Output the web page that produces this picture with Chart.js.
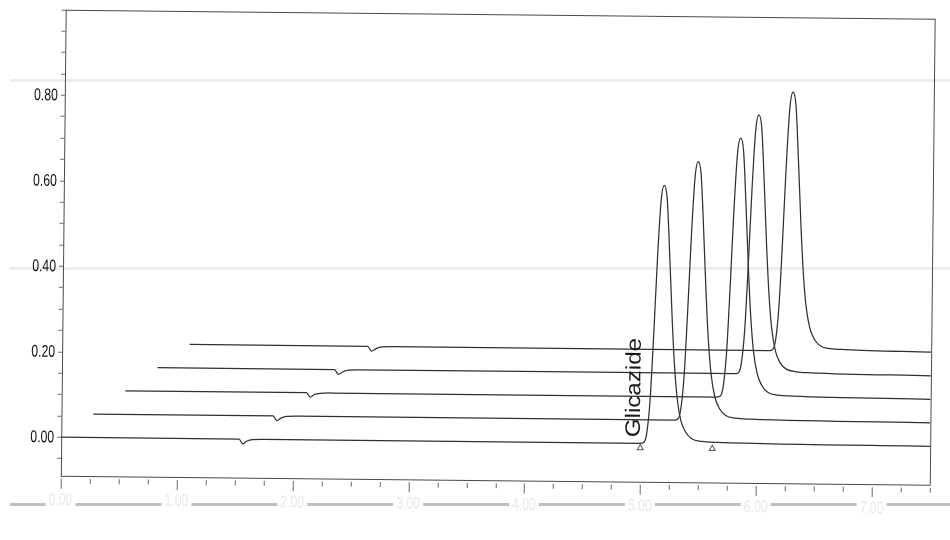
<!DOCTYPE html>
<html>
<head>
<meta charset="utf-8">
<title>Glicazide – overlaid chromatograms</title>
<script src="https://cdn.jsdelivr.net/npm/chart.js@4.4.1/dist/chart.umd.min.js"></script>
<style>
  html, body { margin: 0; padding: 0; background: #ffffff; }
  #wrap { width: 950px; height: 540px; position: relative; }
</style>
</head>
<body>
<div id="wrap"><canvas id="chromo" width="950" height="540"></canvas></div>
<script>
// Five injections, each as [retention time (min), absorbance (AU)] on its own time base.
const run1 = [
  [0.000, 0.000], [1.535, 0.000], [1.567, -0.011], [1.600, -0.005], [1.650, -0.001], [1.750, 0.000],
  [4.997, 0.000], [5.027, 0.002], [5.053, 0.024], [5.079, 0.103], [5.104, 0.254], [5.130, 0.435],
  [5.156, 0.568], [5.182, 0.604], [5.208, 0.574], [5.234, 0.447], [5.260, 0.302], [5.285, 0.187],
  [5.311, 0.109], [5.346, 0.054], [5.389, 0.027], [5.441, 0.012], [5.527, 0.006], [5.656, 0.004],
  [7.500, 0.000]
];
const run2 = [
  [0.000, 0.000], [1.552, 0.000], [1.584, -0.011], [1.620, -0.005], [1.670, -0.001], [1.770, 0.000],
  [5.013, 0.000], [5.043, 0.002], [5.069, 0.025], [5.095, 0.104], [5.120, 0.255], [5.146, 0.436],
  [5.172, 0.569], [5.198, 0.605], [5.224, 0.575], [5.250, 0.448], [5.276, 0.303], [5.301, 0.188],
  [5.327, 0.110], [5.362, 0.055], [5.405, 0.027], [5.457, 0.012], [5.543, 0.006], [5.672, 0.004],
  [7.225, 0.000]
];
const run3 = [
  [0.000, 0.000], [1.563, 0.000], [1.595, -0.010], [1.630, -0.004], [1.680, -0.001], [1.780, 0.000],
  [5.102, 0.000], [5.132, 0.002], [5.158, 0.024], [5.184, 0.103], [5.209, 0.255], [5.235, 0.437],
  [5.261, 0.570], [5.287, 0.606], [5.313, 0.576], [5.339, 0.449], [5.365, 0.303], [5.390, 0.188],
  [5.416, 0.109], [5.451, 0.055], [5.494, 0.027], [5.546, 0.012], [5.632, 0.006], [5.761, 0.004],
  [6.950, 0.000]
];
const run4 = [
  [0.000, 0.000], [1.528, 0.000], [1.560, -0.011], [1.600, -0.005], [1.650, -0.001], [1.750, 0.000],
  [4.982, 0.000], [5.012, 0.002], [5.038, 0.025], [5.064, 0.104], [5.089, 0.256], [5.115, 0.437],
  [5.141, 0.570], [5.167, 0.606], [5.193, 0.575], [5.219, 0.448], [5.245, 0.302], [5.270, 0.187],
  [5.296, 0.108], [5.331, 0.054], [5.374, 0.026], [5.426, 0.012], [5.512, 0.006], [5.641, 0.004],
  [6.675, 0.000]
];
const run5 = [
  [0.000, 0.000], [1.537, 0.000], [1.569, -0.011], [1.610, -0.005], [1.660, -0.001], [1.760, 0.000],
  [5.000, 0.000], [5.030, 0.002], [5.056, 0.024], [5.082, 0.103], [5.107, 0.254], [5.133, 0.436],
  [5.159, 0.569], [5.185, 0.605], [5.211, 0.575], [5.237, 0.448], [5.263, 0.303], [5.288, 0.188],
  [5.314, 0.109], [5.349, 0.055], [5.392, 0.027], [5.444, 0.012], [5.530, 0.006], [5.659, 0.004],
  [6.400, 0.000]
];
const runs = [run1, run2, run3, run4, run5];

// Integration start / end marks of the Glicazide peak in the front run (min).
const peakMarks = [4.998, 5.619];

// Axis labels.
const absTicks = [0.00, 0.20, 0.40, 0.60, 0.80];
const timeTicks = [0, 1, 2, 3, 4, 5, 6, 7];
const peakName = 'Glicazide';

// Waterfall layout: each later run is shifted right and up.
const OFFSET_MIN = 0.275;
const OFFSET_AU = 0.055;
const TILT = 0.6 * Math.PI / 180;
const INK = '#303030';
const FRAME = '#4a4a4a';
const LABEL_FONT = '"Liberation Sans", Arial, sans-serif';

const datasets = runs.map((run, i) => ({
  data: run.map(([t, a]) => ({ x: t + i * OFFSET_MIN, y: a + i * OFFSET_AU })),
  borderColor: INK,
  borderWidth: 1.25,
  pointRadius: 0,
  cubicInterpolationMode: 'monotone',
  fill: false
}));

datasets.push({
  data: peakMarks.map(t => ({ x: t, y: -0.011 })),
  showLine: false,
  pointStyle: 'triangle',
  pointRadius: 3.5,
  pointBorderWidth: 1,
  pointBorderColor: '#555',
  pointBackgroundColor: 'rgba(255,255,255,0)'
});

const sheet = {
  id: 'sheet',
  beforeDraw(chart) {
    const ctx = chart.ctx;
    // faint rules across the sheet
    ctx.save();
    ctx.fillStyle = '#ededed';
    ctx.fillRect(10, 79, 940, 3);
    ctx.fillRect(10, 267, 940, 3);
    ctx.fillStyle = '#bfbfbf';
    ctx.fillRect(10, 503, 940, 3);
    ctx.restore();
    // the plot itself sits slightly skewed on the sheet
    ctx.save();
    ctx.translate(475, 270);
    ctx.rotate(TILT);
    ctx.translate(-475, -270);
  },
  afterDraw(chart) {
    const ctx = chart.ctx;
    const a = chart.chartArea;
    const xs = chart.scales.x;
    const ys = chart.scales.y;

    // top and right frame
    ctx.save();
    ctx.strokeStyle = FRAME;
    ctx.lineWidth = 1;
    ctx.beginPath();
    ctx.moveTo(a.left, a.top + 0.5);
    ctx.lineTo(a.right + 0.5, a.top + 0.5);
    ctx.lineTo(a.right + 0.5, a.bottom);
    ctx.stroke();

    // time ticks: quarter-minute minors, longer whole-minute majors
    ctx.strokeStyle = '#666';
    ctx.beginPath();
    for (let k = 0; k <= 30; k++) {
      const px = Math.round(xs.getPixelForValue(k * 0.25)) + 0.5;
      const major = k % 4 === 0;
      ctx.moveTo(px, a.bottom + 3);
      ctx.lineTo(px, a.bottom + (major ? 13 : 8));
    }
    ctx.stroke();

    // absorbance labels
    ctx.fillStyle = '#111111';
    ctx.font = '17px ' + LABEL_FONT;
    ctx.textAlign = 'right';
    ctx.textBaseline = 'middle';
    absTicks.forEach(v => {
      ctx.save();
      ctx.translate(a.left - 7, ys.getPixelForValue(v) + 0.5);
      ctx.scale(0.72, 1);
      ctx.fillText(v.toFixed(2), 0, 0);
      ctx.restore();
    });

    // time labels (faded print)
    ctx.textAlign = 'center';
    timeTicks.forEach(t => {
      const px = xs.getPixelForValue(t);
      ctx.fillStyle = '#ffffff';
      ctx.fillRect(px - 15, a.bottom + 17, 30, 15);
      ctx.fillStyle = '#e9e9e9';
      ctx.save();
      ctx.translate(px, a.bottom + 24.5);
      ctx.scale(0.72, 1);
      ctx.fillText(t.toFixed(2), 0, 0);
      ctx.restore();
    });

    // peak name, written upward beside the front peak
    ctx.fillStyle = '#1a1a1a';
    ctx.font = '21px ' + LABEL_FONT;
    ctx.textAlign = 'left';
    ctx.textBaseline = 'middle';
    ctx.save();
    ctx.translate(xs.getPixelForValue(4.943), ys.getPixelForValue(0.014));
    ctx.rotate(-Math.PI / 2);
    ctx.scale(1.15, 1);
    ctx.fillText(peakName, 0, 0);
    ctx.restore();

    ctx.restore();
    // end of skewed plot
    ctx.restore();
  }
};

new Chart(document.getElementById('chromo'), {
  type: 'line',
  data: { datasets },
  options: {
    responsive: false,
    devicePixelRatio: 1,
    animation: false,
    events: [],
    layout: { padding: { top: 14, right: 18, bottom: 0, left: 0 } },
    plugins: { legend: { display: false }, tooltip: { enabled: false } },
    scales: {
      x: {
        type: 'linear',
        min: 0,
        max: 7.5,
        ticks: { display: false },
        grid: { display: false },
        border: { display: true, color: FRAME, width: 1 },
        afterFit: s => { s.height = 60; }
      },
      y: {
        type: 'linear',
        min: -0.09,
        max: 1.0,
        afterBuildTicks: s => {
          const t = [];
          for (let k = -1; k <= 20; k++) t.push({ value: +(k * 0.05).toFixed(2) });
          s.ticks = t;
        },
        ticks: { display: false },
        grid: { drawOnChartArea: false, drawTicks: true, tickLength: 4, color: '#6a6a6a' },
        border: { display: true, color: FRAME, width: 1 },
        afterFit: s => { s.width = 63; }
      }
    }
  },
  plugins: [sheet]
});
</script>
</body>
</html>
